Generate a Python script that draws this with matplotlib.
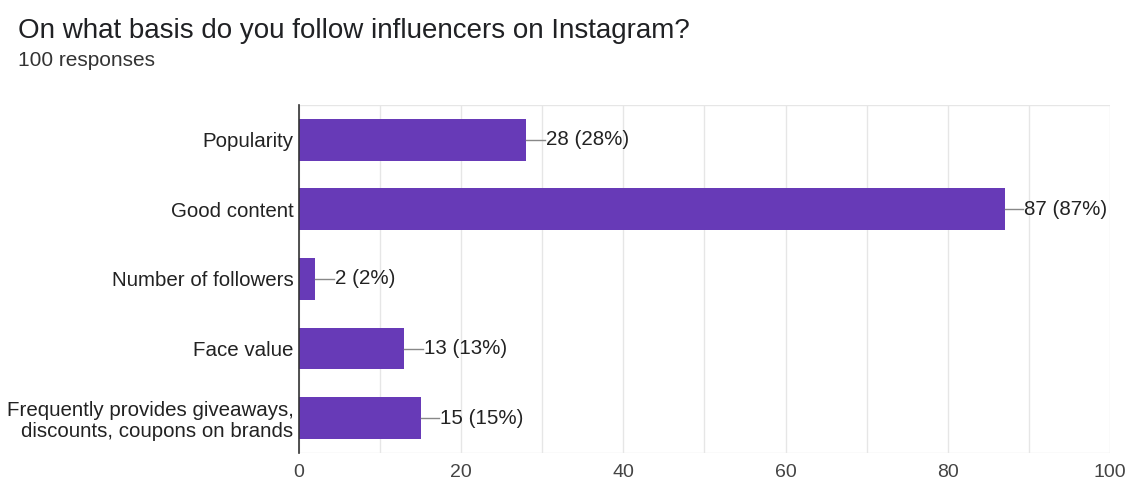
import matplotlib
matplotlib.use("Agg")
from matplotlib import pyplot as plt

# data
categories = ['Popularity', 'Good content', 'Number of followers', 'Face value',
              'Frequently provides giveaways,\ndiscounts, coupons on brands']
counts = [28, 87, 2, 13, 15]
total = 100
xticks = [0, 20, 40, 60, 80, 100]

plt.rcParams['font.family'] = ['Liberation Sans', 'DejaVu Sans']

fig = plt.figure(figsize=(11.29, 4.86), dpi=100)
ax = fig.add_axes([0.2648, 0.068, 0.7184, 0.716])

ypos = list(range(len(categories)))
ax.barh(ypos, counts, height=0.6, color='#673ab7', zorder=3)

for y, c in zip(ypos, counts):
    ax.plot([c, c + 2.3], [y, y], color='#888888', lw=1, zorder=3)
    ax.text(c + 2.4, y, '%d (%d%%)' % (c, round(c * 100 / total)),
            va='center', ha='left', fontsize=14.8, color='#222222')

ax.set_xlim(0, 100)
ax.set_ylim(len(categories) - 0.5, -0.5)
ax.set_xticks(xticks)
ax.set_xticks(range(0, 101, 10), minor=True)
ax.set_yticks(ypos)
ax.set_yticklabels(categories, fontsize=14.8, color='#222222', linespacing=1.1)
ax.tick_params(axis='x', which='both', length=0, pad=8, labelsize=14, labelcolor='#444444')
ax.tick_params(axis='y', length=0, pad=4)
ax.grid(axis='x', which='both', color='#e6e6e6', lw=1, zorder=0)

for s in ['top', 'right', 'bottom']:
    ax.spines[s].set_visible(False)
ax.spines['left'].set_color('#333333')
ax.spines['left'].set_linewidth(1.2)
ax.spines['left'].set_zorder(4)

# plot area borders like the grid
ax.axhline(len(categories) - 0.5, color='#e6e6e6', lw=1, zorder=0)
ax.axhline(-0.5, color='#e6e6e6', lw=1, zorder=0)

fig.text(18 / 1129, 1 - 31 / 486, 'On what basis do you follow influencers on Instagram?',
         fontsize=20, color='#202124', va='center', ha='left')
fig.text(18 / 1129, 1 - 60 / 486, '100 responses', fontsize=15, color='#333333',
         va='center', ha='left')

plt.savefig('out.png', dpi=100)
